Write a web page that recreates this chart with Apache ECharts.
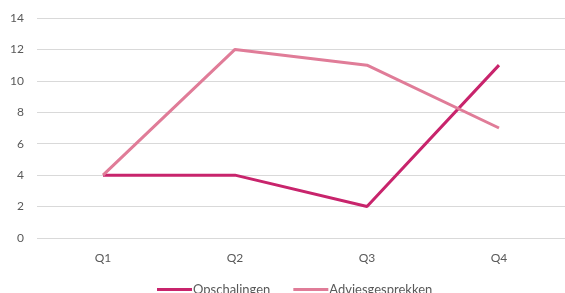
<!DOCTYPE html>
<html>
<head>
<meta charset="utf-8">
<script src="https://cdn.jsdelivr.net/npm/echarts@6/dist/echarts.min.js"></script>
<style>
  html, body { margin: 0; padding: 0; background: #fff; }
  #main { width: 565px; height: 293px; }
</style>
</head>
<body>
<div id="main"></div>
<script>
const quarters = ["Q1", "Q2", "Q3", "Q4"];
const opschalingen = [4, 4, 2, 11];
const adviesgesprekken = [4, 12, 11, 7];

let dom = document.getElementById("main");
let myChart = echarts.init(dom, null, { renderer: "canvas" });

let option = {
    animation: false,
    textStyle: { fontFamily: "Lato, sans-serif" },
    grid: { left: 37, right: 0, top: 18, bottom: 55 },
    legend: {
        bottom: -8,
        left: 152,
        itemWidth: 35,
        itemHeight: 3,
        itemGap: 23,
        icon: "rect",
        textStyle: { color: "#595959", fontSize: 13, padding: [0, 0, 0, -4] },
        data: ["Opschalingen", "Adviesgesprekken"],
    },
    xAxis: {
        type: "category",
        data: quarters,
        axisLine: { show: false },
        axisTick: { show: false },
        axisLabel: { color: "#595959", fontSize: 12, margin: 14 },
    },
    yAxis: {
        type: "value",
        min: 0,
        max: 14,
        interval: 2,
        axisLabel: { color: "#595959", fontSize: 12, margin: 13 },
        splitLine: { lineStyle: { color: "#d9d9d9", width: 1 } },
    },
    series: [
        {
            name: "Opschalingen",
            type: "line",
            data: opschalingen,
            symbol: "none",
            itemStyle: { color: "#c8246c" },
            lineStyle: { color: "#c8246c", width: 3 },
        },
        {
            name: "Adviesgesprekken",
            type: "line",
            data: adviesgesprekken,
            symbol: "none",
            itemStyle: { color: "#e07c98" },
            lineStyle: { color: "#e07c98", width: 3 },
        },
    ],
};

myChart.setOption(option);
window.addEventListener("resize", myChart.resize);
</script>
</body>
</html>
